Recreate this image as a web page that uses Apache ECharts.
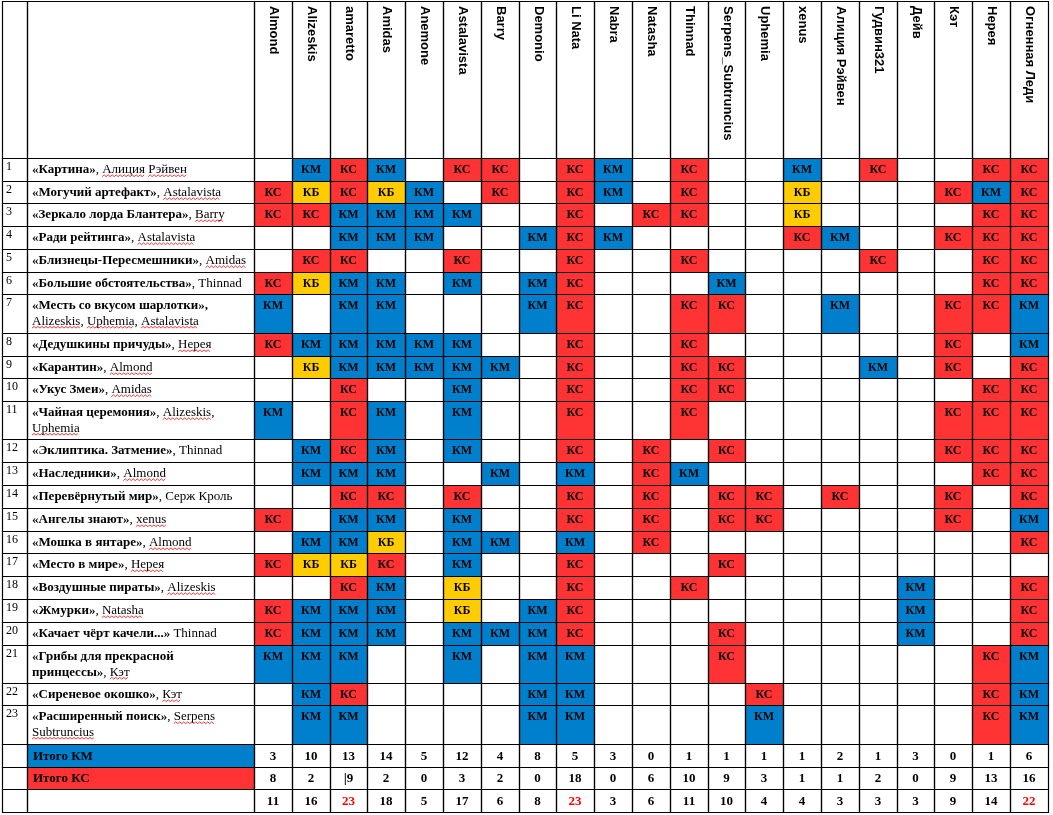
<!DOCTYPE html>
<html><head><meta charset="utf-8">
<script src="https://cdn.jsdelivr.net/npm/echarts@6/dist/echarts.min.js"></script>
<style>html,body{margin:0;padding:0;background:#fff}#c{width:1053px;height:815px}</style>
</head><body><div id="c"></div>
<script>
// ---------- DATA ----------
const persons = ['Almond','Alizeskis','amaretto','Amidas','Anemone','Astalavista','Barry','Demonio','Li Nata','Nabra','Natasha','Thinnad','Serpens_Subtruncius','Uphemia','xenus','Алиция Рэйвен','Гудвин321','Дейв','Кэт','Нерея','Огненная Леди'];
const titles = ['«Картина»','«Могучий артефакт»','«Зеркало лорда Блантера»','«Ради рейтинга»','«Близнецы-Пересмешники»','«Большие обстоятельства»','«Месть со вкусом шарлотки»,','«Дедушкины причуды»','«Карантин»','«Укус Змеи»','«Чайная церемония»','«Эклиптика. Затмение»','«Наследники»','«Перевёрнутый мир»','«Ангелы знают»','«Мошка в янтаре»','«Место в мире»','«Воздушные пираты»','«Жмурки»','«Качает чёрт качели...»','«Грибы для прекрасной\nпринцессы»','«Сиреневое окошко»','«Расширенный поиск»'];
const authors = [', Алиция Рэйвен',', Astalavista',', Barry',', Astalavista',', Amidas',', Thinnad','\nAlizeskis, Uphemia, Astalavista',', Нерея',', Almond',', Amidas',', Alizeskis,\nUphemia',', Thinnad',', Almond',', Серж Кроль',', xenus',', Almond',', Нерея',', Alizeskis',', Natasha',' Thinnad',', Кэт',', Кэт',', Serpens\nSubtruncius'];
// M = КМ, S = КС, B = КБ, . = empty ; one letter per person, in the order of persons
const marks = [
  '.MSM.SS.SM.S..M.S..SS',
  'SBSBM.S.SM.S..B...SMS',
  'SSMMMM..S.SS..B....SS',
  '..MMM..MSM....SM..SSS',
  '.SS..S..S..S....S..SS',
  'SBMM.M.MS...M......SS',
  'M.MM...MS..SS..M..SSM',
  'SMMMMM..S..S......S.M',
  '.BMMMMM.S..SS...M.S.S',
  '..S..M..S..SS......SS',
  'M.SM.M..S..S......SSS',
  '.MSM.M..S.S.S.....SSS',
  '.MMM..M.M.SM.......SS',
  '..SS.S..S.S.SS.S..S.S',
  'S.MM.M..S.S.SS....S.M',
  '.MMB.MM.M.S.........S',
  'SBBS.M..S...S........',
  '..SM.B..S..S.....M..S',
  'SMMM.B.MS........M..S',
  'SMMM.MMMS...S....M..S',
  'MMM..M.MM...S......SM',
  '.MS....MM....S.....SM',
  '.MM....MM....M.....SM'
];
const totalKM = [3,10,13,14,5,12,4,8,5,3,0,1,1,1,1,2,1,3,0,1,6];
const totalKC = ['8','2','|9','2','0','3','2','0','18','0','6','10','9','3','1','1','2','0','9','13','16'];
const totalAll = [11,16,23,18,5,17,6,8,23,3,6,11,10,4,4,3,3,3,9,14,22];
const summaryLabels = ['Итого КМ','Итого КС',''];

// ---------- LAYOUT / STYLE ----------
const codeMap = {M:'КМ', S:'КС', B:'КБ', '.':''};
const FILL = {'КМ':'#0080cc','КС':'#ff3333','КБ':'#ffcc00'};
const SERIF = '"Liberation Serif", "Times New Roman", serif';
const SANS = '"Liberation Sans", Arial, sans-serif';
const FONT_B = 'bold 13px ' + SERIF, FONT_R = '13px ' + SERIF;
const LINE_H = 15.5;
const noSquiggle = ['Thinnad','Серж','Кроль'];
const colW = 37.8;
const colEdges = [2, 27, 254];
for (let i = 1; i <= persons.length; i++) colEdges.push(254 + i * colW);
const rowHeights = [157.3, 22.4,22.6,23,22.7,23,22.3,39,22.4,22.6,22.7,38.3,22.7,22.7,23,23,22.6,22.7,23,23,23,38.3,21.7,39, 22.7,22.6,23];
const rowEdges = [1];
rowHeights.forEach(h => rowEdges.push(rowEdges[rowEdges.length-1] + h));

const mctx = document.createElement('canvas').getContext('2d');
function tw(t, f) { mctx.font = f; return mctx.measureText(t).width; }

const cells = [];
function add(c, r, opt) {
  cells.push(Object.assign({value:[colEdges[c], rowEdges[r], colEdges[c+1], rowEdges[r+1]]}, opt || {}));
}
add(0,0); add(1,0);
persons.forEach((p,i) => add(i+2, 0, {kind:'head', text:p}));
titles.forEach((t,i) => {
  const r = i+1;
  add(0, r, {kind:'num', text:String(r)});
  add(1, r, {kind:'title', title:t, author:authors[i]});
  marks[i].split('').forEach((ch,j) => {
    const m = codeMap[ch];
    add(j+2, r, m ? {kind:'mark', text:m, fill:FILL[m]} : {});
  });
});
[totalKM, totalKC, totalAll].forEach((arr,k) => {
  const r = titles.length + 1 + k;
  add(0, r);
  add(1, r, {kind:'sumlabel', text:summaryLabels[k], fill: k===0 ? FILL['КМ'] : (k===1 ? FILL['КС'] : null)});
  arr.forEach((v,j) => add(j+2, r, {kind:'sum', text:String(v), red: k===2 && v >= 22}));
});

function squiggles(cell, tx, ty) {
  // split rich segments into lines
  const segs = [{t:cell.title, f:FONT_B, au:false}, {t:cell.author, f:FONT_R, au:true}];
  const lines = [[]];
  segs.forEach(s => {
    s.t.split('\n').forEach((part, k) => {
      if (k > 0) lines.push([]);
      lines[lines.length-1].push({t:part, f:s.f, au:s.au});
    });
  });
  const out = [];
  lines.forEach((line, li) => {
    let x = tx;
    const yc = ty + LINE_H * li + LINE_H / 2 + 6;
    line.forEach(seg => {
      if (seg.au) {
        const re = /[^\s,]+/g; let m;
        while ((m = re.exec(seg.t))) {
          if (noSquiggle.indexOf(m[0]) >= 0) continue;
          const xs = x + tw(seg.t.slice(0, m.index), seg.f);
          const xe = xs + tw(m[0], seg.f);
          const pts = [];
          for (let px = xs, k = 0; px <= xe; px += 2, k++) pts.push([px, yc + (k % 2 ? -0.9 : 0.9)]);
          out.push({type:'polyline', shape:{points:pts}, style:{stroke:'#ff0000', lineWidth:0.8, fill:null}});
        }
      }
      x += tw(seg.t, seg.f);
    });
  });
  return out;
}

function renderCell(params, api) {
  const cell = cells[params.dataIndex];
  const p0 = api.coord([api.value(0), api.value(1)]);
  const p1 = api.coord([api.value(2), api.value(3)]);
  const x0 = Math.round(p0[0]), y0 = Math.round(p0[1]), x1 = Math.round(p1[0]), y1 = Math.round(p1[1]);
  const ch = [];
  if (cell.fill) ch.push({type:'rect', shape:{x:x0, y:y0, width:x1-x0, height:y1-y0}, style:{fill:cell.fill}});
  const cx = (x0+x1)/2;
  if (cell.kind === 'head') {
    ch.push({type:'text', x:cx+1, y:y0+5, rotation:-Math.PI/2,
      style:{text:cell.text, font:'bold 13px '+SANS, fill:'#000', align:'left', verticalAlign:'middle'}});
  } else if (cell.kind === 'num') {
    ch.push({type:'text', x:x0+4, y:y0+3, style:{text:cell.text, font:'12px '+SERIF, fill:'#000', align:'left', verticalAlign:'top'}});
  } else if (cell.kind === 'title') {
    const tx = x0+5, ty = y0+4;
    ch.push({type:'text', x:tx, y:ty, style:{
      text:'{b|'+cell.title+'}{r|'+cell.author+'}', fill:'#000', align:'left', verticalAlign:'top',
      rich:{b:{font:FONT_B, lineHeight:LINE_H, fill:'#000'}, r:{font:FONT_R, lineHeight:LINE_H, fill:'#000'}}}});
    squiggles(cell, tx, ty).forEach(s => ch.push(s));
  } else if (cell.kind === 'mark') {
    ch.push({type:'text', x:cx, y:y0+12, style:{text:cell.text, font:'bold 12px '+SERIF, fill:'#000', align:'center', verticalAlign:'middle'}});
  } else if (cell.kind === 'sumlabel') {
    ch.push({type:'text', x:x0+6, y:(y0+y1)/2+1, style:{text:cell.text, font:'bold 13px '+SERIF, fill:'#000', align:'left', verticalAlign:'middle'}});
  } else if (cell.kind === 'sum') {
    if (cell.text.indexOf('|') === 0) {
      ch.push({type:'text', x:cx, y:(y0+y1)/2+1, style:{text:'{c||}{n|'+cell.text.slice(1)+'}', align:'center', verticalAlign:'middle',
        rich:{c:{font:'12px '+SANS, fill:'#000'}, n:{font:'bold 13px '+SERIF, fill:'#000'}}}});
    } else {
      ch.push({type:'text', x:cx, y:(y0+y1)/2+1, style:{text:cell.text, font:'bold 13px '+SERIF, fill: cell.red ? '#ff0000' : '#000', align:'center', verticalAlign:'middle'}});
    }
  }
  return {type:'group', children:ch};
}
function renderBorder(params, api) {
  const p0 = api.coord([api.value(0), api.value(1)]);
  const p1 = api.coord([api.value(2), api.value(3)]);
  const x0 = Math.round(p0[0]), y0 = Math.round(p0[1]), x1 = Math.round(p1[0]), y1 = Math.round(p1[1]);
  return {type:'rect', shape:{x:x0+0.5, y:y0+0.5, width:x1-x0, height:y1-y0}, style:{fill:'none', stroke:'#000', lineWidth:1.2}};
}

const chart = echarts.init(document.getElementById('c'));
chart.setOption({
  animation:false,
  grid:{left:0, right:0, top:0, bottom:0},
  xAxis:{type:'value', min:0, max:1053, show:false},
  yAxis:{type:'value', min:0, max:815, inverse:true, show:false},
  series:[
    {type:'custom', renderItem:renderCell, data:cells, silent:true, z:1, clip:false},
    {type:'custom', renderItem:renderBorder, data:cells, silent:true, z:2, clip:false}
  ]
});
</script></body></html>
